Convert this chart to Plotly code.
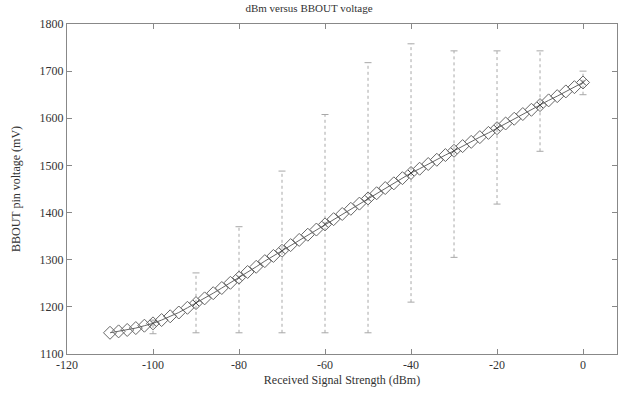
import plotly.graph_objects as go

# Diamond series: received signal strength (dBm) vs BBOUT voltage (mV)
dbm = list(range(-110, 1, 2))
mv = [1145, 1148, 1151, 1155, 1160, 1165, 1172, 1180, 1188, 1198,
      1208, 1218, 1229, 1240, 1251, 1262, 1274, 1285, 1297, 1308,
      1319, 1331, 1342, 1353, 1364, 1375, 1386, 1397, 1408, 1419,
      1430, 1441, 1452, 1462, 1473, 1484, 1493, 1503, 1512, 1522,
      1531, 1541, 1550, 1560, 1569, 1579, 1589, 1599, 1609, 1618,
      1628, 1638, 1647, 1657, 1666, 1676]

# Error-bar samples every 10 dBm
eb_x = [-100, -90, -80, -70, -60, -50, -40, -30, -20, -10, 0]
eb_mid = [1165, 1208, 1262, 1319, 1375, 1430, 1484, 1531, 1579, 1628, 1676]
eb_lo = [1143, 1145, 1145, 1145, 1145, 1145, 1210, 1305, 1418, 1530, 1650]
eb_hi = [1172, 1272, 1370, 1488, 1608, 1718, 1758, 1743, 1743, 1743, 1700]

x_ticks = [-120, -100, -80, -60, -40, -20, 0]
x_ticklabels = ["-120", "-100", "-80", "-60", "-40", "-20", "0"]

title = "dBm versus BBOUT voltage"
x_title = "Received Signal Strength (dBm)"
y_title = "BBOUT pin voltage (mV)"

FONT = "Liberation Serif"

fig = go.Figure()

# dotted vertical error bars
lx, ly = [], []
for x, lo, hi in zip(eb_x, eb_lo, eb_hi):
    lx += [x, x, None]
    ly += [lo, hi, None]
fig.add_trace(go.Scatter(x=lx, y=ly, mode="lines",
                         line=dict(color="#a8a8a8", width=1, dash="dot"),
                         hoverinfo="skip", showlegend=False))
# caps
fig.add_trace(go.Scatter(x=eb_x + eb_x, y=eb_lo + eb_hi, mode="markers",
                         marker=dict(symbol="line-ew", size=5,
                                     line=dict(color="#a8a8a8", width=1)),
                         showlegend=False))

# diamonds
fig.add_trace(go.Scatter(x=dbm, y=mv, mode="lines+markers",
                         line=dict(color="#666666", width=1),
                         marker=dict(symbol="diamond-open", size=10,
                                     line=dict(color="#5a5a5a", width=1)),
                         showlegend=False))
# centre crosses
fig.add_trace(go.Scatter(x=eb_x, y=eb_mid, mode="markers",
                         marker=dict(symbol="x-thin", size=6,
                                     line=dict(color="#444444", width=1)),
                         showlegend=False))

axis_common = dict(showgrid=False, zeroline=False, showline=True,
                   linecolor="#888888", linewidth=1, mirror="allticks",
                   ticks="inside", ticklen=5, tickcolor="#888888",
                   tickfont=dict(family=FONT, size=12, color="#333333"))

fig.update_layout(
    width=618, height=394,
    margin=dict(l=67, r=1, t=24, b=40),
    paper_bgcolor="white", plot_bgcolor="white",
    title=dict(text=title, x=0.5, xanchor="center", y=0.99, yanchor="top",
               font=dict(family=FONT, size=11, color="#333333")),
    xaxis=dict(range=[-120, 7.9], tickvals=x_ticks, ticktext=x_ticklabels,
               title=dict(text=x_title, standoff=4,
                          font=dict(family=FONT, size=12, color="#333333")),
               **axis_common),
    yaxis=dict(range=[1100, 1800], dtick=100,
               title=dict(text=y_title, standoff=16,
                          font=dict(family=FONT, size=12, color="#333333")),
               **axis_common),
)

fig.write_html("out.html")
